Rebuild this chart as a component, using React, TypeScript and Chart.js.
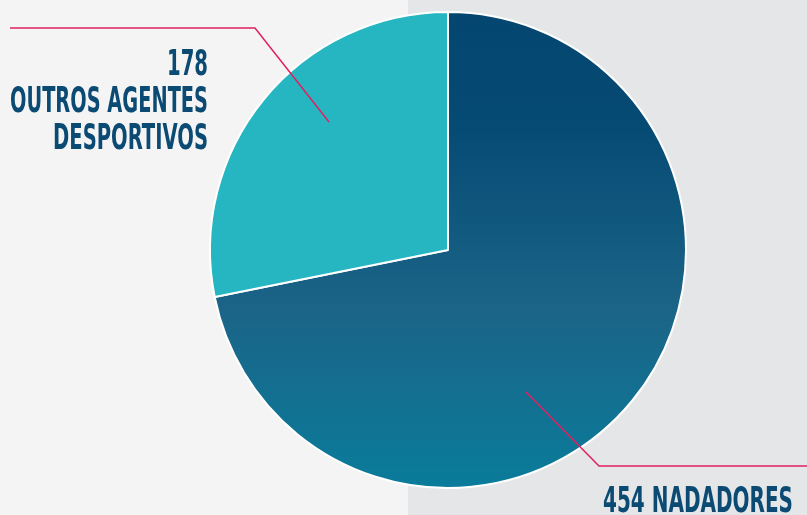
import React, { useEffect, useRef } from "react";
import { Chart, registerables } from "chart.js";

Chart.register(...registerables);

const categories = ["NADADORES", "OUTROS AGENTES DESPORTIVOS"];
const values = [454, 178];
const labelLines = [["454 NADADORES"], ["178", "OUTROS AGENTES", "DESPORTIVOS"]];

const TEXT_COLOR = "#0b4a73";
const LINE_COLOR = "#e0215f";
const FONT = "bold 35px 'Liberation Sans Narrow', 'DejaVu Sans Condensed', 'DejaVu Sans', sans-serif";

const decorPlugin = {
  id: "decor",
  beforeDraw(chart: any) {
    const { ctx, width, height } = chart;
    ctx.save();
    ctx.fillStyle = "#f4f4f4";
    ctx.fillRect(0, 0, width, height);
    ctx.fillStyle = "#e5e6e8";
    ctx.fillRect(408, 0, width - 408, height);
    ctx.restore();
  },
  afterDraw(chart: any) {
    const { ctx } = chart;
    ctx.save();
    // leader lines
    ctx.strokeStyle = LINE_COLOR;
    ctx.lineWidth = 1.5;
    ctx.beginPath();
    ctx.moveTo(10, 28);
    ctx.lineTo(255, 28);
    ctx.lineTo(329, 122);
    ctx.stroke();
    ctx.beginPath();
    ctx.moveTo(526, 392);
    ctx.lineTo(599, 466);
    ctx.lineTo(807, 466);
    ctx.stroke();

    // labels
    ctx.fillStyle = TEXT_COLOR;
    ctx.font = FONT;
    ctx.textBaseline = "alphabetic";
    ctx.textAlign = "right";
    const left = labelLines[1];
    const widths = [41, 198, 155];
    const baselines = [75, 112, 149];
    left.forEach((t, i) => {
      ctx.fillText(t, 208, baselines[i], widths[i]);
    });
    ctx.textAlign = "left";
    ctx.fillText(labelLines[0][0], 603, 512, 190);
    ctx.restore();
  },
};

export default function App() {
  const ref = useRef<HTMLCanvasElement | null>(null);

  useEffect(() => {
    document.body.style.margin = "0";
    if (!ref.current) return;
    const chart = new Chart(ref.current, {
      type: "pie",
      data: {
        labels: categories,
        datasets: [
          {
            data: values,
            backgroundColor: (c: any) => {
              const ch = c.chart;
              const a = ch.chartArea;
              if (c.dataIndex === 1) return "#25b6c1";
              if (!a) return "#10628a";
              const g = ch.ctx.createLinearGradient(0, a.top, 0, a.bottom);
              g.addColorStop(0, "#044670");
              g.addColorStop(0.25, "#064b74");
              g.addColorStop(0.62, "#1b6487");
              g.addColorStop(1, "#0a7c9b");
              return g;
            },
            borderColor: "#ffffff",
            borderWidth: 2,
          },
        ],
      },
      options: {
        responsive: false,
        animation: false,
        devicePixelRatio: 1,
        layout: { padding: { top: 11, bottom: 26, left: 209, right: 120 } },
        plugins: {
          legend: { display: false },
          tooltip: { enabled: false },
        },
      },
      plugins: [decorPlugin],
    });
    return () => chart.destroy();
  }, []);

  return (
    <div style={{ position: "fixed", left: 0, top: 0, width: 807, height: 515 }}>
      <canvas ref={ref} width={807} height={515} style={{ display: "block" }} />
    </div>
  );
}
